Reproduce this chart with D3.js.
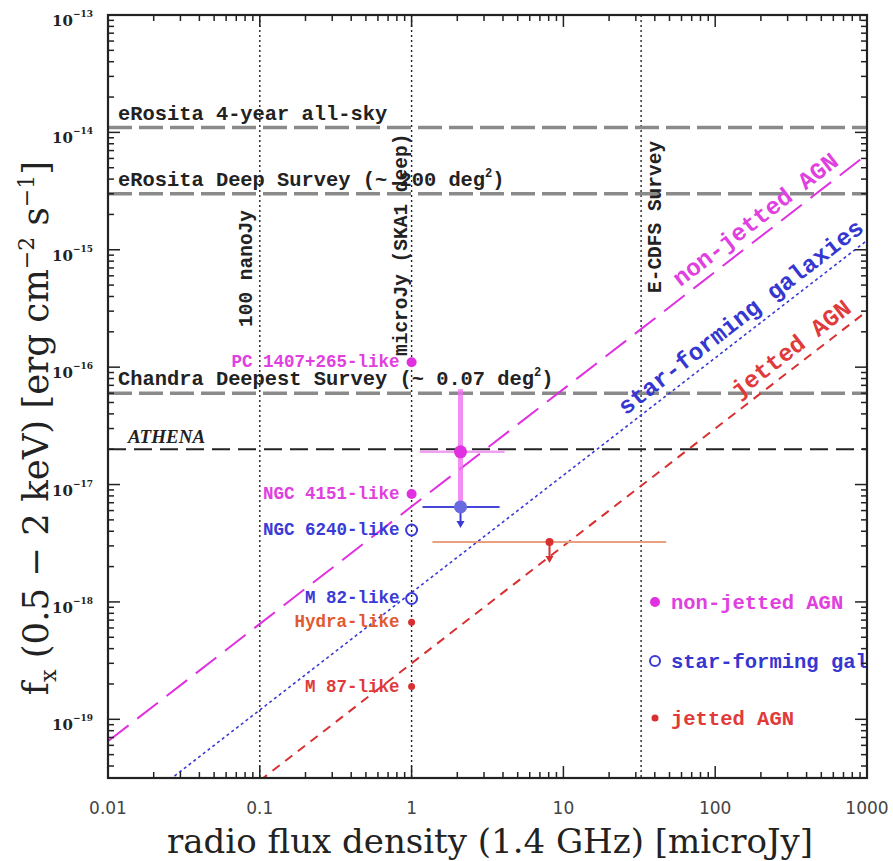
<!DOCTYPE html>
<html>
<head>
<meta charset="utf-8">
<script src="https://cdn.jsdelivr.net/npm/d3@7"></script>
<style>
  html, body { margin: 0; padding: 0; background: #fff; }
  svg { display: block; }
  .mono { font-family: "Liberation Mono", "DejaVu Sans Mono", monospace; font-weight: bold; }
  .serif { font-family: "DejaVu Serif", serif; }
  .sans { font-family: "DejaVu Sans", "Liberation Sans", sans-serif; }
</style>
</head>
<body>
<svg id="chart" width="893" height="861"></svg>
<script>
// ---- axis ticks ----
const xTickValues = [0.01, 0.1, 1, 10, 100, 1000];
const xTickLabels = ["0.01", "0.1", "1", "10", "100", "1000"];
const yTickExponents = [-19, -18, -17, -16, -15, -14, -13];

// ---- X-ray survey flux limits (0.5-2 keV, erg cm^-2 s^-1) ----
const surveyNames = ["eRosita 4-year all-sky", "eRosita Deep Survey (~ 200 deg", "Chandra Deepest Survey (~ 0.07 deg", "ATHENA"];
const surveyFlux = [1.1e-14, 3.0e-15, 6.0e-17, 2.0e-17];

// ---- radio depths (microJy) ----
const radioLimitNames = ["100 nanoJy", "microJy (SKA1 deep)", "E-CDFS Survey"];
const radioLimitFlux = [0.1, 1, 32.5];

// ---- source classes: X-ray flux per microJy of radio flux ----
const classNames = ["non-jetted AGN", "star-forming galaxies", "jetted AGN"];
const classRatio = [6.5e-18, 1.2e-18, 3.0e-19];
const classLabelRadio = [64, 28, 155];

// ---- local templates scaled to 1 microJy ----
const templateNames = ["PC 1407+265-like", "NGC 4151-like", "NGC 6240-like", "M 82-like", "Hydra-like", "M 87-like"];
const templateRadio = [1, 1, 1, 1, 1, 1];
const templateFlux = [1.1e-16, 8.3e-18, 4.1e-18, 1.07e-18, 6.7e-19, 1.9e-19];
const templateClass = [0, 0, 1, 1, 2, 2];

// ---- stacked measurements ----
const stackClass = [0, 1, 2];
const stackRadio = [2.1, 2.1, 8.1];
const stackFlux = [1.9e-17, 6.45e-18, 3.24e-18];
const stackRadioLo = [1.13, 1.18, 1.37];
const stackRadioHi = [4.1, 3.8, 47.6];
const stackFluxLo = [6.5e-18, null, null];
const stackFluxHi = [6.5e-17, null, null];
const stackLimitTo = [null, 4.26e-18, 2.15e-18];

// ---- styles ----
const classColor = ["#e030e0", "#3a3ad6", "#d83030"];
const classLabelColor = ["#e040e0", "#3636d0", "#e03a3a"];
const templateLabelColor = ["#e040e0", "#e040e0", "#3a3ad6", "#3a3ad6", "#e05a30", "#e03a3a"];
const classDash = ["26,11", "3,3", "9,7"];

const svg = d3.select("#chart");
const L = 108, R = 867, T = 15, B = 778;

const x = d3.scaleLog().domain([0.01, 1000]).range([L, R]);
const y = d3.scaleLog().domain([Math.pow(10, -19.5), 1e-13]).range([B, T]);

svg.append("defs").append("clipPath").attr("id", "plotclip")
  .append("rect").attr("x", L).attr("y", T).attr("width", R - L).attr("height", B - T);

const plot = svg.append("g").attr("clip-path", "url(#plotclip)");

// vertical radio depth lines
plot.selectAll("line.radio").data(radioLimitFlux).join("line")
  .attr("class", "radio")
  .attr("x1", d => x(d)).attr("x2", d => x(d))
  .attr("y1", T).attr("y2", B)
  .attr("stroke", "#222").attr("stroke-width", 1.4).attr("stroke-dasharray", "2,3");

// horizontal survey limits
plot.selectAll("line.survey").data(surveyFlux).join("line")
  .attr("class", "survey")
  .attr("x1", L).attr("x2", R)
  .attr("y1", d => y(d)).attr("y2", d => y(d))
  .attr("stroke", (d, i) => i === 3 ? "#222" : "#8a8a8a")
  .attr("stroke-width", (d, i) => i === 3 ? 2 : 3.5)
  .attr("stroke-dasharray", (d, i) => i === 3 ? "18,8" : "24,7");

// class relations f_X = ratio * S
classRatio.forEach((r, i) => {
  const pts = [0.01, 1000].map(s => [x(s), y(r * s)]);
  plot.append("path")
    .attr("d", d3.line()(pts))
    .attr("fill", "none")
    .attr("stroke", classColor[i])
    .attr("stroke-width", i === 1 ? 1.6 : 2)
    .attr("stroke-dasharray", classDash[i]);
});

// survey labels
const surveyLabelPos = [[118, 120], [118, 186], [118, 385], [128, 443]];
surveyNames.forEach((name, i) => {
  const t = plot.append("text")
    .attr("x", surveyLabelPos[i][0]).attr("y", surveyLabelPos[i][1])
    .attr("fill", "#222");
  if (i === 3) {
    t.attr("font-family", "Liberation Serif, serif").attr("font-style", "italic")
      .attr("font-weight", "bold").attr("font-size", 19).text(name);
  } else {
    t.attr("class", "mono").attr("font-size", 20.4);
    t.append("tspan").text(name);
    if (i === 1 || i === 2) {
      t.append("tspan").attr("font-size", 12).attr("dy", -9).text("2");
      t.append("tspan").attr("dy", 9).text(")");
    }
  }
});

// radio depth labels (vertical)
const radioLabelPos = [[252, 327], [407, 356], [661, 293]];
radioLimitNames.forEach((name, i) => {
  plot.append("text")
    .attr("class", "mono")
    .attr("font-size", 19.5)
    .attr("fill", "#222")
    .attr("transform", `translate(${radioLabelPos[i][0]},${radioLabelPos[i][1]}) rotate(-90)`)
    .text(name);
});

// class labels along the relations
classNames.forEach((name, i) => {
  const s = classLabelRadio[i];
  const px = x(s), py = y(classRatio[i] * s);
  const ang = Math.atan2(y(classRatio[i] * s * 10) - py, x(s * 10) - px) * 180 / Math.PI;
  plot.append("text")
    .attr("class", "mono")
    .attr("font-size", 24)
    .attr("fill", classLabelColor[i])
    .attr("transform", `translate(${px},${py}) rotate(${ang})`)
    .attr("y", -9)
    .text(name);
});

// stacked measurements with error bars / upper limits
stackRadio.forEach((s, i) => {
  const c = stackClass[i];
  const cx = x(s), cy = y(stackFlux[i]);
  const g = plot.append("g");
  if (stackFluxHi[i] !== null) {
    g.append("line")
      .attr("x1", cx).attr("x2", cx)
      .attr("y1", y(stackFluxHi[i])).attr("y2", y(stackFluxLo[i]))
      .attr("stroke", "#f070f0").attr("stroke-width", 5).attr("stroke-opacity", 0.8);
  }
  const hColor = ["#f0a0f0", "#4646d8", "#e8a080"][c];
  g.append("line")
    .attr("x1", x(stackRadioLo[i])).attr("x2", x(stackRadioHi[i]))
    .attr("y1", cy).attr("y2", cy)
    .attr("stroke", hColor).attr("stroke-width", c === 0 ? 2.5 : 2);
  if (stackLimitTo[i] !== null) {
    const ty = y(stackLimitTo[i]);
    g.append("line")
      .attr("x1", cx).attr("x2", cx).attr("y1", cy).attr("y2", ty - 4)
      .attr("stroke", classColor[c]).attr("stroke-width", 2);
    g.append("path")
      .attr("d", `M${cx - 4},${ty - 7} L${cx + 4},${ty - 7} L${cx},${ty} Z`)
      .attr("fill", classColor[c]);
  }
  g.append("circle")
    .attr("cx", cx).attr("cy", cy)
    .attr("r", c === 2 ? 4 : 6.5)
    .attr("fill", ["#e030e0", "#6a6ae0", "#d83030"][c]);
});

// local templates
templateRadio.forEach((s, i) => {
  const c = templateClass[i];
  const cx = x(s), cy = y(templateFlux[i]);
  plot.append("circle")
    .attr("cx", cx).attr("cy", cy)
    .attr("r", c === 0 ? 5 : (c === 1 ? 5.5 : 3.5))
    .attr("fill", c === 1 ? "none" : classColor[c])
    .attr("stroke", c === 1 ? classColor[c] : "none")
    .attr("stroke-width", 2);
  plot.append("text")
    .attr("class", "mono")
    .attr("font-size", 17.5)
    .attr("fill", templateLabelColor[i])
    .attr("text-anchor", "end")
    .attr("x", cx - 12).attr("y", cy + 5)
    .text(templateNames[i]);
});

// legend
const legendY = [602, 661, 718];
classNames.forEach((name, i) => {
  plot.append("circle")
    .attr("cx", 655).attr("cy", legendY[i])
    .attr("r", i === 2 ? 3.5 : 5)
    .attr("fill", i === 1 ? "none" : classColor[i])
    .attr("stroke", i === 1 ? classColor[i] : "none")
    .attr("stroke-width", 2);
  plot.append("text")
    .attr("class", "mono")
    .attr("font-size", 20.5)
    .attr("fill", classLabelColor[i])
    .attr("x", 671).attr("y", legendY[i] + 7)
    .text(name);
});

// ---- frame and ticks ----
const axes = svg.append("g");
const xTicksAll = x.ticks();
const yTicksAll = y.ticks();
const isMajor = v => Math.abs(Math.log10(v) - Math.round(Math.log10(v))) < 1e-6;

xTicksAll.forEach(v => {
  const len = isMajor(v) ? 12 : 6;
  axes.append("line").attr("x1", x(v)).attr("x2", x(v)).attr("y1", B).attr("y2", B - len)
    .attr("stroke", "#222").attr("stroke-width", 1.5);
  axes.append("line").attr("x1", x(v)).attr("x2", x(v)).attr("y1", T).attr("y2", T + len)
    .attr("stroke", "#222").attr("stroke-width", 1.5);
});
yTicksAll.forEach(v => {
  const len = isMajor(v) ? 12 : 6;
  axes.append("line").attr("x1", L).attr("x2", L + len).attr("y1", y(v)).attr("y2", y(v))
    .attr("stroke", "#222").attr("stroke-width", 1.5);
  axes.append("line").attr("x1", R).attr("x2", R - len).attr("y1", y(v)).attr("y2", y(v))
    .attr("stroke", "#222").attr("stroke-width", 1.5);
});
axes.append("rect").attr("x", L).attr("y", T).attr("width", R - L).attr("height", B - T)
  .attr("fill", "none").attr("stroke", "#222").attr("stroke-width", 2.2);

// x tick labels
xTickValues.forEach((v, i) => {
  axes.append("text").attr("class", "sans").attr("font-size", 17).attr("fill", "#444")
    .attr("text-anchor", "middle").attr("x", x(v)).attr("y", 814).text(xTickLabels[i]);
});

// y tick labels
yTickExponents.forEach(e => {
  const t = axes.append("text").attr("class", "serif").attr("font-size", 15).attr("fill", "#222")
    .attr("font-weight", "bold")
    .attr("text-anchor", "end").attr("x", 93).attr("y", y(Math.pow(10, e)) + 11);
  t.append("tspan").text("10");
  t.append("tspan").attr("font-size", 9).attr("dy", -9).text("\u2212" + Math.abs(e));
});

// axis titles
axes.append("text").attr("class", "serif").attr("font-size", 34).attr("fill", "#222")
  .attr("text-anchor", "middle").attr("x", 490).attr("y", 853)
  .text("radio flux density (1.4 GHz) [microJy]");

const yt = axes.append("text").attr("class", "serif").attr("font-size", 35.5).attr("fill", "#222")
  .attr("text-anchor", "middle")
  .attr("transform", "translate(48,428) rotate(-90)");
yt.append("tspan").text("f");
yt.append("tspan").attr("font-size", 22).attr("dy", 8).text("x");
yt.append("tspan").attr("dy", -8).text(" (0.5 \u2212 2 keV) [erg cm");
yt.append("tspan").attr("font-size", 22).attr("dy", -14).text("\u22122");
yt.append("tspan").attr("dy", 14).text(" s");
yt.append("tspan").attr("font-size", 22).attr("dy", -14).text("\u22121");
yt.append("tspan").attr("dy", 14).text("]");
</script>
</body>
</html>
